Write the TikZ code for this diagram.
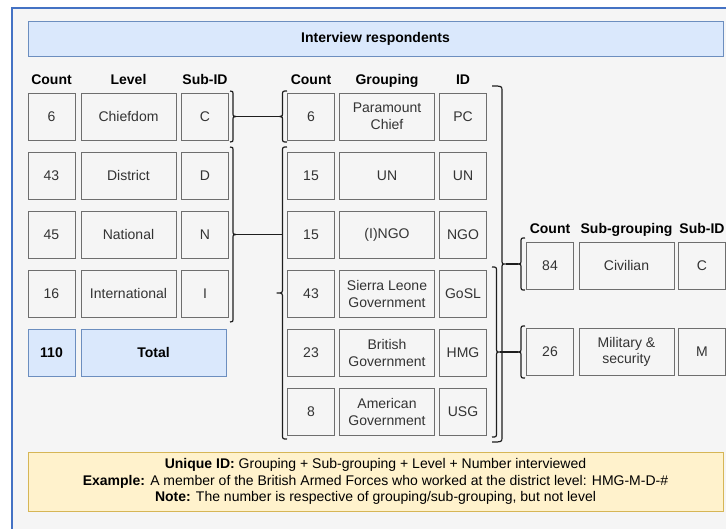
\documentclass[tikz,border=0pt]{standalone}
\usepackage{fontspec}
\setmainfont{Liberation Sans}
\definecolor{bgray}{HTML}{F5F5F5}
\definecolor{sgray}{HTML}{6E6E6E}
\definecolor{tgray}{HTML}{333333}
\definecolor{bluefill}{HTML}{DAE8FC}
\definecolor{bluestroke}{HTML}{6C8EBF}
\definecolor{yelfill}{HTML}{FFF2CC}
\definecolor{yelstroke}{HTML}{D6B656}
\definecolor{frameblue}{HTML}{4472C4}
\definecolor{bracecol}{HTML}{1E1E1E}
% curly bracket: #1 end x, #2 top y, #3 bottom y, #4 straight offset, #5 tip offset
\newcommand{\mycurly}[5]{%
  \draw[bracecol, line width=1.2pt, line join=round]
    (#1,#2) .. controls ({#1+#4},#2) .. ({#1+#4},{#2+5})
    -- ({#1+#4},{(#2+#3)/2-5}) .. controls ({#1+#4},{(#2+#3)/2}) .. ({#1+#5},{(#2+#3)/2})
    .. controls ({#1+#4},{(#2+#3)/2}) .. ({#1+#4},{(#2+#3)/2+5})
    -- ({#1+#4},{#3-5}) .. controls ({#1+#4},#3) .. (#1,#3);}
\begin{document}
\begin{tikzpicture}[x=1pt,y=-1pt,
  every node/.style={font=\fontsize{14}{16.7}\selectfont, inner sep=0pt, align=center},
  cell/.style={draw=sgray, fill=bgray, text=tgray, line width=1pt, minimum height=47pt},
  narrow/.style={cell, minimum width=47pt},
  wide/.style={cell, minimum width=95pt},
  hdr/.style={font=\fontsize{14}{16.7}\selectfont\bfseries, anchor=base},
  tot/.style={draw=bluestroke, fill=bluefill, line width=1pt, font=\fontsize{14}{16.7}\selectfont\bfseries, minimum height=47pt},
  link/.style={draw=bracecol, line width=1.2pt}
]
\useasboundingbox (0,0) rectangle (726,528);
\clip (0,0) rectangle (726,528);
\fill[white] (0,0) rectangle (726,528);
\draw[frameblue, line width=2pt, fill=bgray] (12,8) rectangle (760,560);

% title
\node[draw=bluestroke, fill=bluefill, line width=1pt, minimum width=695pt, minimum height=35pt,
      font=\fontsize{14}{16.7}\selectfont\bfseries] (title) at (375.5,38.5) {Interview respondents};

% headers
\node[hdr] (h1) at (51.5,84) {Count};
\node[hdr] (h2) at (128.5,84) {Level};
\node[hdr] (h3) at (205,84) {Sub-ID};
\node[hdr] (h4) at (311,84) {Count};
\node[hdr] (h5) at (387,84) {Grouping};
\node[hdr] (h6) at (463,84) {ID};
\node[hdr] (h7) at (550,233) {Count};
\node[hdr] (h8) at (626.5,233) {Sub-grouping};
\node[hdr] (h9) at (702,233) {Sub-ID};

% left table
\node[narrow] (lc1) at (51.5,116.5) {6};
\node[wide]   (ll1) at (128.5,116.5) {Chiefdom};
\node[narrow] (ls1) at (205,116.5) {C};
\node[narrow] (lc2) at (51.5,175.6) {43};
\node[wide]   (ll2) at (128.5,175.6) {District};
\node[narrow] (ls2) at (205,175.6) {D};
\node[narrow] (lc3) at (51.5,234.7) {45};
\node[wide]   (ll3) at (128.5,234.7) {National};
\node[narrow] (ls3) at (205,234.7) {N};
\node[narrow] (lc4) at (51.5,293.8) {16};
\node[wide]   (ll4) at (128.5,293.8) {International};
\node[narrow] (ls4) at (205,293.8) {I};
\node[tot, minimum width=47pt]  (tc) at (51.5,352.9) {110};
\node[tot, minimum width=145pt] (tl) at (153.5,352.9) {Total};

% middle table
\node[narrow] (mc1) at (311,116.5) {6};
\node[wide]   (mg1) at (387,116.5) {Paramount\\Chief};
\node[narrow] (mi1) at (463,116.5) {PC};
\node[narrow] (mc2) at (311,175.6) {15};
\node[wide]   (mg2) at (387,175.6) {UN};
\node[narrow] (mi2) at (463,175.6) {UN};
\node[narrow] (mc3) at (311,234.7) {15};
\node[wide]   (mg3) at (387,234.7) {(I)NGO};
\node[narrow] (mi3) at (463,234.7) {NGO};
\node[narrow] (mc4) at (311,293.8) {43};
\node[wide]   (mg4) at (387,293.8) {Sierra Leone\\Government};
\node[narrow] (mi4) at (463,293.8) {GoSL};
\node[narrow] (mc5) at (311,352.9) {23};
\node[wide]   (mg5) at (387,352.9) {British\\Government};
\node[narrow] (mi5) at (463,352.9) {HMG};
\node[narrow] (mc6) at (311,412) {8};
\node[wide]   (mg6) at (387,412) {American\\Government};
\node[narrow] (mi6) at (463,412) {USG};

% right table
\node[narrow] (rc1) at (550,265.5) {84};
\node[wide]   (rg1) at (626.5,265.5) {Civilian};
\node[narrow] (ri1) at (702,265.5) {C};
\node[narrow] (rc2) at (550,352) {26};
\node[wide]   (rg2) at (626.5,352) {Military \&\\security};
\node[narrow] (ri2) at (702,352) {M};

% braces
\mycurly{230}{91}{142}{3}{6}
\mycurly{287}{91}{142}{-4.5}{-7.5}
\mycurly{230}{147}{322}{3}{6}
\mycurly{287}{147}{439}{-4.5}{-10}
\mycurly{492}{86}{442}{10}{13.5}
\mycurly{492}{267}{437}{4.5}{8}
\mycurly{525}{238}{290}{-4}{-7}
\mycurly{525}{326}{378}{-4}{-7}

% brace tips and links
\coordinate (t1) at (236,116.5);
\coordinate (t2) at (279.5,116.5);
\coordinate (t3) at (236,234.5);
\coordinate (t4) at (282.5,234.5);
\coordinate (t5) at (505.5,264);
\coordinate (t6) at (518,264);
\coordinate (t7) at (500,352);
\coordinate (t8) at (518,352);
\draw[link] (t1) -- (t2);
\draw[link] (t3) -- (t4);
\draw[link] (t5) -- (t6);
\draw[link] (t7) -- (t8);

% note
\node[draw=yelstroke, fill=yelfill, line width=1pt, minimum width=695pt, minimum height=59pt] (note) at (375.5,481.5)
  {\textbf{Unique ID:} Grouping + Sub-grouping + Level + Number interviewed\\
   \textbf{Example:} A member of the British Armed Forces who worked at the district level: HMG-M-D-\#\\
   \textbf{Note:} The number is respective of grouping/sub-grouping, but not level};
\end{tikzpicture}
\end{document}
